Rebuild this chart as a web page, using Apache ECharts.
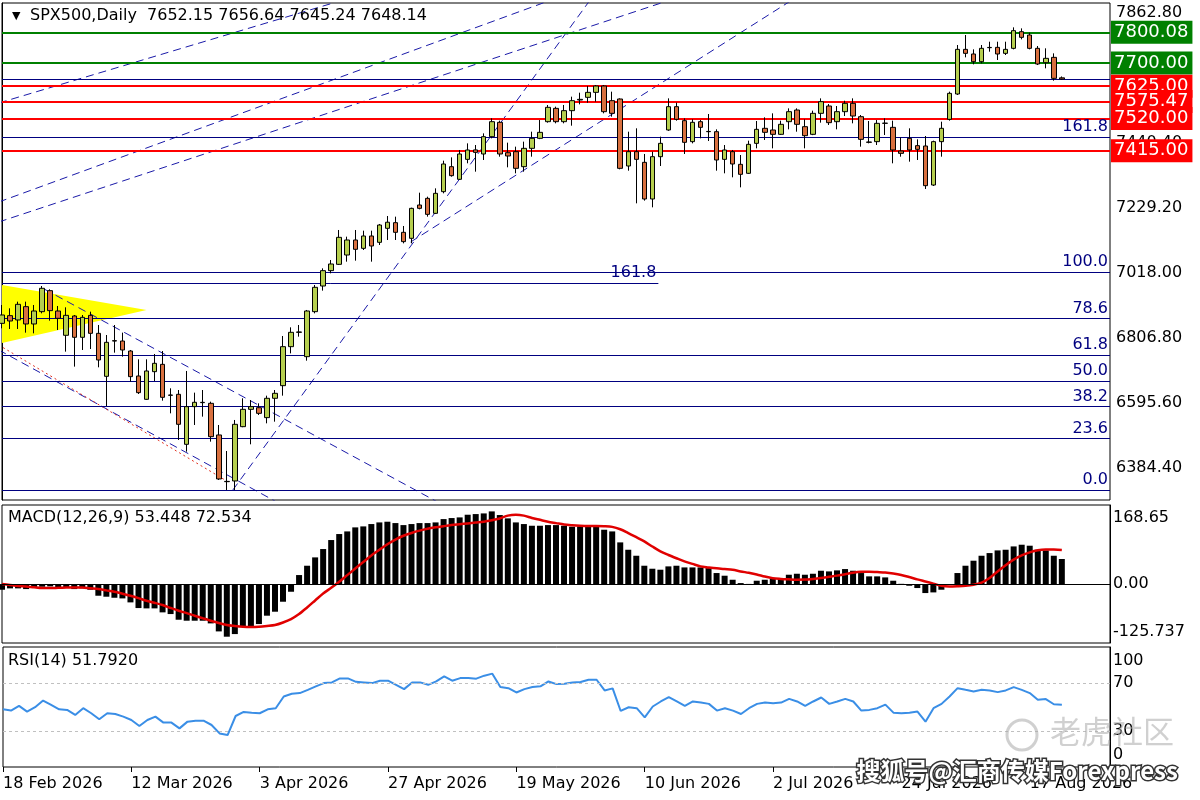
<!DOCTYPE html>
<html><head><meta charset="utf-8">
<script src="https://cdn.jsdelivr.net/npm/echarts@6/dist/echarts.min.js"></script>
<style>html,body{margin:0;padding:0;background:#fff}#c{width:1200px;height:800px}</style>
</head><body><div id="c"></div>
<script>
// ---------------- data ----------------
const tickLabels = ['18 Feb 2026','12 Mar 2026','3 Apr 2026','27 Apr 2026','19 May 2026','10 Jun 2026','2 Jul 2026','24 Jul 2026','17 Aug 2026'];
const opens = [6854.5,6879.5,6865.4,6908.7,6852.4,6892.4,6960.7,6894.6,6815.6,6878.4,
6809.1,6880.5,6822.0,6682.3,6798.2,6797.1,6764.6,6683.4,6607.6,6697.5,
6721.3,6621.7,6623.9,6461.4,6583.8,6596.8,6594.6,6491.8,6340.1,6342.3,
6518.8,6575.1,6580.5,6548.1,6610.9,6652.0,6778.7,6825.3,6746.2,6892.4,
6975.8,7025.7,7046.2,7076.5,7125.3,7098.2,7138.3,7117.7,7163.2,7181.6,
7150.2,7130.7,7239.0,7260.6,7211.9,7282.3,7363.5,7322.4,7387.3,7418.0,
7404.7,7461.0,7507.6,7409.0,7412.3,7363.5,7423.1,7455.6,7509.7,7553.0,
7509.7,7545.5,7580.1,7588.8,7605.0,7625.6,7578.0,7583.4,7365.7,7412.3,
7377.6,7258.5,7396.0,7482.7,7558.5,7513.0,7444.8,7509.7,7477.2,7477.2,
7387.3,7412.3,7371.1,7341.9,7439.3,7488.1,7482.7,7468.6,7509.7,7547.6,
7493.5,7468.6,7536.8,7560.6,7509.7,7542.2,7569.3,7526.0,7443.7,7444.8,
7504.3,7491.3,7414.4,7455.6,7431.8,7430.7,7303.9,7444.8,7517.3,7599.6,
7744.7,7729.6,7704.6,7750.1,7751.2,7731.7,7748.0,7802.1,7791.3,7748.0,
7701.4,7718.7,7652.15];
const highs = [6914.1,6903.3,6924.9,6924.9,6914.1,6975.8,6965.0,6910.9,6906.5,6881.6,
6881.6,6892.4,6849.1,6816.6,6849.1,6824.2,6767.9,6737.6,6737.6,6754.9,
6764.6,6643.4,6637.9,6699.7,6629.3,6637.9,6600.0,6524.2,6439.7,6540.5,
6610.9,6605.4,6594.6,6619.5,6637.9,6813.4,6841.5,6849.1,6897.9,6979.1,
7033.2,7060.3,7157.8,7136.1,7157.8,7155.6,7155.6,7177.3,7203.2,7201.1,
7170.8,7230.3,7279.0,7266.0,7293.1,7383.0,7393.8,7417.7,7439.3,7433.9,
7471.8,7520.6,7513.0,7441.5,7428.5,7444.8,7477.2,7515.1,7563.9,7558.5,
7563.9,7591.0,7603.9,7625.6,7628.9,7628.9,7607.2,7585.5,7477.2,7488.1,
7404.7,7412.3,7461.0,7585.5,7571.5,7520.6,7517.3,7515.1,7534.6,7484.8,
7433.9,7417.7,7401.4,7448.0,7511.9,7523.8,7536.8,7513.0,7553.0,7553.0,
7517.3,7545.5,7585.5,7567.1,7560.6,7577.9,7585.5,7531.4,7511.9,7515.1,
7520.6,7513.0,7458.8,7488.1,7452.3,7463.2,7448.0,7509.7,7607.2,7758.8,
7791.3,7744.7,7758.8,7769.6,7769.6,7769.6,7816.2,7812.9,7798.9,7755.5,
7748.0,7731.7,7656.64];
const lows = [6838.3,6836.1,6836.1,6824.2,6822.0,6887.0,6863.2,6832.9,6762.5,6713.8,
6767.9,6771.1,6711.6,6585.9,6759.2,6746.2,6665.0,6624.9,6606.0,6667.2,
6603.3,6562.1,6475.5,6437.6,6524.2,6551.3,6470.1,6345.5,6313.0,6313.0,
6517.0,6461.4,6556.7,6529.6,6535.0,6619.5,6757.0,6811.2,6733.2,6887.0,
6960.7,7017.0,7044.0,7054.9,7058.1,7092.8,7054.9,7109.0,7125.3,7125.3,
7114.4,7114.4,7224.9,7201.1,7210.0,7276.9,7331.0,7320.2,7374.4,7347.3,
7385.2,7455.6,7396.0,7361.4,7341.9,7347.3,7396.0,7453.0,7506.5,7504.3,
7504.3,7496.7,7566.0,7571.5,7574.7,7536.8,7526.0,7354.9,7350.5,7244.4,
7253.1,7231.4,7365.7,7480.0,7513.0,7404.7,7439.3,7455.6,7446.9,7350.5,
7341.9,7328.9,7296.4,7340.0,7423.1,7450.2,7423.1,7466.4,7484.8,7477.2,
7423.1,7466.0,7506.5,7498.9,7484.8,7528.1,7504.3,7428.5,7439.3,7433.9,
7466.4,7374.4,7396.0,7379.8,7385.2,7291.0,7300.7,7396.0,7513.0,7596.4,
7718.7,7696.0,7699.2,7737.1,7710.1,7726.3,7744.7,7777.2,7744.7,7693.8,
7683.0,7642.9,7645.24];
const closes = [6881.6,6862.1,6916.3,6852.4,6894.6,6968.3,6895.7,6870.8,6880.5,6809.1,
6874.0,6822.0,6735.4,6792.8,6797.0,6767.9,6681.3,6629.3,6699.7,6724.6,
6614.1,6620.6,6526.4,6583.8,6597.9,6597.8,6486.3,6348.8,6341.0,6526.4,
6575.1,6583.8,6562.1,6610.9,6627.1,6778.7,6825.3,6826.5,6894.6,6971.5,
7025.7,7047.3,7133.9,7125.3,7095.0,7138.3,7105.8,7174.0,7183.0,7150.2,
7119.9,7228.1,7228.1,7208.6,7276.9,7372.2,7334.3,7404.7,7417.7,7410.0,
7461.0,7509.7,7404.7,7398.2,7358.1,7423.1,7455.6,7475.1,7556.3,7509.7,
7545.5,7578.0,7582.3,7605.0,7625.6,7542.2,7536.8,7358.1,7412.3,7387.3,
7258.5,7396.0,7439.3,7558.5,7517.3,7442.6,7507.6,7491.3,7478.0,7385.2,
7417.7,7372.2,7338.6,7436.1,7484.8,7475.1,7468.6,7501.1,7542.2,7501.1,
7464.2,7536.8,7574.7,7506.5,7542.2,7569.3,7528.1,7452.3,7442.6,7504.3,
7505.0,7417.7,7406.8,7417.7,7419.8,7301.8,7444.8,7488.1,7601.8,7744.7,
7731.7,7704.6,7748.0,7751.0,7729.6,7744.7,7805.4,7783.7,7748.0,7697.1,
7715.5,7650.5,7648.14];
const macdMain = [-12.1,-9.2,-9.2,-10.7,-7.1,-5.7,-5.0,-6.4,-7.1,-10.7,
-9.2,-12.1,-24.9,-27.0,-29.2,-30.6,-39.1,-51.2,-51.9,-51.9,
-60.4,-64.0,-76.1,-78.2,-78.2,-78.2,-83.9,-101.0,-112.3,-106.7,
-91.0,-90.3,-85.3,-67.5,-59.0,-37.7,-16.4,19.2,39.1,56.9,
74.7,93.9,106.7,112.3,120.9,123.0,128.0,131.5,133.0,130.1,
125.8,128.0,130.1,130.1,131.5,138.6,140.8,142.2,147.9,149.3,
150.7,155.0,147.2,140.1,131.5,128.0,124.4,124.4,125.8,125.8,
124.4,122.3,123.0,123.0,123.0,115.9,112.3,88.9,73.2,60.4,
39.1,32.7,30.6,37.7,39.1,35.5,35.5,35.5,34.1,23.5,
17.8,9.2,2.1,0.3,7.1,9.2,11.4,12.8,19.9,22.0,
19.9,22.0,28.4,27.0,29.2,32.0,28.4,23.5,16.4,16.4,
14.2,7.1,0.5,-3.6,-8.5,-19.2,-17.8,-12.1,-1.4,23.5,
39.1,49.8,60.4,66.1,71.8,73.2,80.3,83.9,81.8,73.2,
71.8,60.4,53.448];
const macdSignal = [0,-2,-4,-5,-7,-8.5,-8.5,-8,-7.5,-7.1,
-7.1,-9,-10.7,-13.5,-16.4,-20.5,-24.9,-30,-35.6,-40,
-44.8,-51,-56.9,-62,-67.5,-73,-78.2,-83,-87.5,-89.5,
-91,-91.5,-91,-89.5,-87.5,-82,-74.7,-64,-50,-35,
-20,-8,5,19,33,47,61,73,85,95,
103,109,114,118,121,123.5,125.8,127.6,129.4,131.2,
133,136,140,146,147.9,146,141,137,133,130,
127,125.5,124.5,124,124,123.5,122,117,108.8,100,
91,80,69.7,62,55,48.3,43,37.7,35.5,33.5,
32,30.6,27,24,20.5,16,12.5,11,10,9.2,
9.5,11,13,15.5,18,21,24,26,26.5,25.5,
24.5,22.5,19.5,15,10,5.5,1,-3.6,-5,-4.5,
-3.6,-1.5,3,13,27,40,52,61,67.5,72,
73.5,73.5,72.534];
const rsiValues = [48.1,47.0,50.9,46.2,49.8,55.4,51.8,48.1,47.6,43.4,
49.0,44.8,39.8,44.8,44.2,42.0,39.2,34.2,39.2,42.0,
37.0,37.0,32.2,37.8,38.6,38.6,35.0,28.0,26.6,42.5,
45.9,45.3,44.8,48.1,49.0,58.8,61.0,61.6,64.3,67.2,
69.9,70.5,73.8,73.8,71.0,70.5,69.9,71.9,71.9,68.5,
64.9,70.5,70.5,68.5,71.3,75.5,71.9,74.1,74.1,73.6,
76.1,77.8,66.6,65.7,62.1,64.9,66.6,67.2,71.3,69.1,
69.4,70.5,70.8,72.7,72.7,63.8,65.5,46.7,49.8,49.0,
41.4,50.4,54.6,58.2,54.6,50.9,54.6,53.7,52.6,47.0,
49.0,47.0,44.2,49.0,52.6,53.7,53.2,53.7,56.8,54.6,
50.9,54.6,57.9,52.6,54.6,56.8,54.6,47.0,47.6,49.0,
52.0,45.3,44.8,45.3,46.2,37.8,49.0,52.6,58.8,65.7,
64.3,63.0,64.3,63.8,62.4,63.8,66.6,64.3,61.6,56.0,
56.6,52.3,51.792];
const priceTicks = [6384.40, 6595.60, 6806.80, 7018.00, 7229.20, 7440.40, 7862.80];
const macdTicks = [-125.737, 0, 168.65];
const rsiTicks = [0, 30, 70, 100];
const bidPrice = 7648.14;
const fibPrices = [6313.0, 6480.2, 6583.6, 6667.2, 6750.7, 6869.7, 7021.3, 7459.0];
const fibLabels = ['0.0', '23.6', '38.2', '50.0', '61.8', '78.6', '100.0', '161.8'];
const shortFib = {fromIdx: 0, toIdx: 81.75, price: 6985.6, label: '161.8'};
const greenLevels = [7800.08, 7700.00];
const redLevels = [7625.00, 7575.47, 7520.00, 7415.00];
// trend lines: [startBarIndex, startPrice, endBarIndex, endPrice]
const trendLines = [
  [-0.4, 7570.4, 41.25, 7895.3],
  [-0.4, 7248.7, 68.4, 7905.0],
  [-0.4, 7183.8, 82.1, 7895.3],
  [28.75, 6313.0, 73.25, 7905.0],
  [50.9, 7118.8, 98.4, 7905.0],
  [5.25, 6966.0, 54.6, 6269.0],
  [-0.4, 6767.9, 34.0, 6277.0]
];
const redDotted = [-0.4, 6784.0, 28.4, 6335.8];
const triangle = [[0, 6979.1], [18, 6897.8], [0, 6790.6]];

// ---------------- chart ----------------
const N = 139;
const categories = Array.from({length: N}, (_, i) => 'b' + i);
const FONT = 'DejaVu Sans';
const NAVY = '#000080';
const BULL = '#b6cf4f', BEAR = '#d8703f';
const L = 2, R = 90;

const candleData = opens.map((o, i) => [o, closes[i], lows[i], highs[i]]);

const mainLines = [];
mainLines.push({yAxis: bidPrice, lineStyle: {color: NAVY, width: 1, type: 'solid'}, label: {show: false}});
fibPrices.forEach((p, k) => mainLines.push({
  yAxis: p, lineStyle: {color: NAVY, width: 1, type: 'solid'},
  label: {show: true, position: 'insideEndTop', formatter: fibLabels[k], color: NAVY, fontSize: 16, fontFamily: FONT, distance: 2}
}));
const boxLabel = (p, bg) => ({show: true, position: 'end', formatter: p.toFixed(2), color: '#fff', backgroundColor: bg,
    padding: [3, 4, 2, 3], fontSize: 18, fontFamily: FONT, distance: 1});
greenLevels.forEach(p => mainLines.push({
  yAxis: p, lineStyle: {color: '#008000', width: 2, type: 'solid'}, label: boxLabel(p, '#008000')
}));
redLevels.forEach(p => mainLines.push({
  yAxis: p, lineStyle: {color: '#ff0000', width: 2, type: 'solid'}, label: boxLabel(p, '#ff0000')
}));

const series = [];
series.push({
  type: 'custom', xAxisIndex: 3, yAxisIndex: 0, data: [0], silent: true, z: 1,
  renderItem: (params, api) => ({
    type: 'polygon',
    shape: {points: triangle.map(p => api.coord(p))},
    style: {fill: '#ffff00'}
  })
});
series.push({
  type: 'candlestick', xAxisIndex: 0, yAxisIndex: 0, data: candleData, barWidth: 5, z: 5,
  itemStyle: {color: BULL, color0: BEAR, borderColor: '#000', borderColor0: '#000', borderWidth: 1},
  markLine: {symbol: ['none', 'none'], silent: true, animation: false, data: mainLines}
});
trendLines.forEach(t => series.push({
  type: 'line', xAxisIndex: 3, yAxisIndex: 0, data: [[t[0], t[1]], [t[2], t[3]]],
  symbol: 'none', silent: true, z: 4, lineStyle: {color: '#1a1aa8', width: 1, type: [8, 5]}
}));
series.push({
  type: 'line', xAxisIndex: 3, yAxisIndex: 0, data: [[redDotted[0], redDotted[1]], [redDotted[2], redDotted[3]]],
  symbol: 'none', silent: true, z: 4, lineStyle: {color: '#e03020', width: 1, type: [2, 3]}
});
series.push({
  type: 'line', xAxisIndex: 3, yAxisIndex: 0, data: [], silent: true,
  markLine: {symbol: ['none', 'none'], silent: true, animation: false,
    data: [[{coord: [shortFib.fromIdx, shortFib.price]}, {coord: [shortFib.toIdx, shortFib.price]}]],
    lineStyle: {color: NAVY, width: 1, type: 'solid'},
    label: {show: true, position: 'insideEndTop', formatter: shortFib.label, color: NAVY, fontSize: 16, fontFamily: FONT, distance: 2}}
});
series.push({
  type: 'bar', xAxisIndex: 1, yAxisIndex: 1, data: macdMain, barWidth: 6, itemStyle: {color: '#000'}, silent: true,
  markLine: {symbol: ['none', 'none'], silent: true, animation: false, label: {show: false},
    data: [{yAxis: 0, lineStyle: {color: '#000', width: 1, type: 'solid'}}]}
});
series.push({
  type: 'line', xAxisIndex: 1, yAxisIndex: 1, data: macdSignal, symbol: 'none', silent: true, smooth: 0.3,
  lineStyle: {color: '#e00000', width: 2.5}, z: 4
});
series.push({
  type: 'line', xAxisIndex: 2, yAxisIndex: 2, data: rsiValues, symbol: 'none', silent: true,
  lineStyle: {color: '#3a8ee6', width: 2},
  markLine: {symbol: ['none', 'none'], silent: true, animation: false, label: {show: false},
    data: [{yAxis: 70}, {yAxis: 30}], lineStyle: {color: '#c0c0c0', width: 1, type: [3, 3]}}
});

const hiddenCat = (gi) => ({
  type: 'category', gridIndex: gi, data: categories, boundaryGap: false,
  axisLine: {show: false}, axisTick: {show: false}, axisLabel: {show: false}, splitLine: {show: false}
});

const option = {
  animation: false,
  backgroundColor: '#fff',
  textStyle: {fontFamily: FONT},
  grid: [
    {left: L, right: R, top: 3, height: 497, show: true, borderColor: '#000', borderWidth: 1, backgroundColor: 'transparent'},
    {left: L, right: R, top: 505, height: 138, show: true, borderColor: '#000', borderWidth: 1},
    {left: L, right: R, top: 647, height: 120, show: true, borderColor: '#000', borderWidth: 1}
  ],
  xAxis: [
    hiddenCat(0),
    hiddenCat(1),
    {
      type: 'category', gridIndex: 2, data: categories, boundaryGap: false,
      axisLine: {show: false},
      axisTick: {show: true, interval: 15, length: 5, lineStyle: {color: '#000'}},
      axisLabel: {show: true, interval: 15, align: 'left', fontSize: 16, color: '#000', margin: 9,
        formatter: (v, idx) => (idx % 16 === 0 && tickLabels[idx / 16]) ? tickLabels[idx / 16] : ''},
      splitLine: {show: false}
    },
    {type: 'value', gridIndex: 0, min: 0, max: N - 1, show: false}
  ],
  yAxis: [
    {
      type: 'value', gridIndex: 0, position: 'right', min: 6280.5, max: 7895.3, scale: true,
      splitLine: {show: false}, axisLine: {show: true, lineStyle: {color: '#000'}},
      axisTick: {show: false},
      axisLabel: {customValues: priceTicks, formatter: v => v.toFixed(2), fontSize: 16, color: '#000', margin: 6}
    },
    {
      type: 'value', gridIndex: 1, position: 'right', min: -125.737, max: 168.65,
      splitLine: {show: false}, axisLine: {show: true, lineStyle: {color: '#000'}},
      axisTick: {show: false},
      axisLabel: {customValues: macdTicks, fontSize: 16, color: '#000', margin: 3,
        formatter: v => v === 0 ? '0.00' : (v > 0 ? '{t|' + v + '}' : '{b|' + v + '}'),
        rich: {t: {fontSize: 16, padding: [26, 0, 0, 0]}, b: {fontSize: 16, padding: [0, 0, 22, 0]}}}
    },
    {
      type: 'value', gridIndex: 2, position: 'right', min: 0, max: 100,
      splitLine: {show: false}, axisLine: {show: true, lineStyle: {color: '#000'}},
      axisTick: {show: false},
      axisLabel: {customValues: rsiTicks, fontSize: 16, color: '#000', margin: 3,
        formatter: v => v === 100 ? '{t|100}' : (v === 0 ? '{b|0}' : String(v)),
        rich: {t: {fontSize: 16, padding: [28, 0, 0, 0]}, b: {fontSize: 16, padding: [0, 0, 24, 0]}}}
    }
  ],
  series: series,
  graphic: [
    {type: 'text', left: 12, top: 11, z: 100, style: {text: '▼', font: '11px "DejaVu Sans"', fill: '#000'}},
    {type: 'text', left: 30, top: 8, z: 100, style: {text: 'SPX500,Daily  7652.15 7656.64 7645.24 7648.14', font: '16px "DejaVu Sans"', fill: '#000'}},
    {type: 'text', left: 8, top: 510, z: 100, style: {text: 'MACD(12,26,9) 53.448 72.534', font: '16px "DejaVu Sans"', fill: '#000'}},
    {type: 'text', left: 8, top: 653, z: 100, style: {text: 'RSI(14) 51.7920', font: '16px "DejaVu Sans"', fill: '#000'}},
    {type: 'circle', z: 100, shape: {cx: 1022, cy: 735, r: 15}, style: {fill: 'none', stroke: 'rgba(170,170,170,0.55)', lineWidth: 3}},
    {type: 'text', left: 1050, top: 716, z: 100, style: {text: '老虎社区', font: '31px "Noto Sans CJK SC"', fill: 'rgba(170,170,170,0.55)'}},
    {type: 'text', left: 855, top: 757, z: 101, style: {text: '搜狐号@汇商传媒Forexpress', font: 'bold 24px "Noto Sans CJK SC"', fill: '#fff', stroke: '#333', lineWidth: 3, strokeFirst: true}}
  ]
};

const chart = echarts.init(document.getElementById('c'));
chart.setOption(option);
</script>
</body></html>
